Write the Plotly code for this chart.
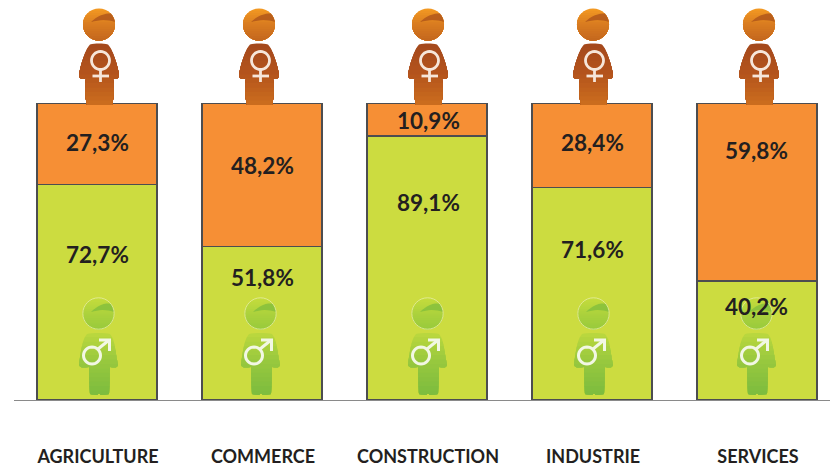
import plotly.graph_objects as go

# ---- data ----
categories = ["AGRICULTURE", "COMMERCE", "CONSTRUCTION", "INDUSTRIE", "SERVICES"]
men = [72.7, 51.8, 89.1, 71.6, 40.2]
women = [27.3, 48.2, 10.9, 28.4, 59.8]
men_labels = ["72,7%", "51,8%", "89,1%", "71,6%", "40,2%"]
women_labels = ["27,3%", "48,2%", "10,9%", "28,4%", "59,8%"]

# ---- layout constants (pixels) ----
W, H = 830, 470
L, AXIS_Y = 14, 400
men_label_y = [254, 277, 202, 249, 306]
women_label_y = [142, 165, 120, 142, 151]
label_x = [97, 262, 428, 592, 756]
female_x = [99, 259, 428, 593, 759]
male_x = [98, 260, 427, 593, 756]
ORANGE, GREEN = "#F68F35", "#CCDC40"
FONT = "Lato"
BANDS = 14


def fx(p):
    return (p - L) / (W - L)


def fy(p):
    return (AXIS_Y - p) / AXIS_Y


def flatten(cmds):
    pts = []
    for c in cmds:
        op, v = c[0], c[1:]
        if op in "ML":
            pts.append((v[0], v[1]))
        elif op == "C":
            p0 = pts[-1]
            for i in range(1, 9):
                t = i / 8
                a, b, d, e = (1 - t) ** 3, 3 * (1 - t) ** 2 * t, 3 * (1 - t) * t ** 2, t ** 3
                pts.append((a * p0[0] + b * v[0] + d * v[2] + e * v[4],
                            a * p0[1] + b * v[1] + d * v[3] + e * v[5]))
    return pts


def clip_below(pts, y0):
    out = []
    for i, p in enumerate(pts):
        q = pts[(i + 1) % len(pts)]
        if p[1] >= y0:
            out.append(p)
        if (p[1] >= y0) != (q[1] >= y0):
            t = (y0 - p[1]) / (q[1] - p[1])
            out.append((p[0] + t * (q[0] - p[0]), y0))
    return out


def poly_path(pts, close=True):
    s = "M" + " L".join(f"{fx(x):.5f},{fy(y):.5f}" for x, y in pts)
    return s + (" Z" if close else "")


def shape(pts, fill=None, line=None, width=0, close=True):
    return dict(
        type="path", xref="paper", yref="paper", layer="above", path=poly_path(pts, close),
        fillcolor=fill or "rgba(0,0,0,0)",
        line=dict(color=line or "rgba(0,0,0,0)", width=width),
    )


def lerp_stops(stops, t):
    for (t0, c0), (t1, c1) in zip(stops, stops[1:]):
        if t <= t1:
            f = (t - t0) / (t1 - t0)
            rgb = [round(int(c0[i:i + 2], 16) * (1 - f) + int(c1[i:i + 2], 16) * f) for i in (1, 3, 5)]
            return f"rgb({rgb[0]},{rgb[1]},{rgb[2]})"
    return stops[-1][1]


def gradient(pts, stops):
    ys = [p[1] for p in pts]
    y0, y1 = min(ys), max(ys)
    out = []
    for i in range(BANDS):
        part = pts if i == 0 else clip_below(pts, y0 + (y1 - y0) * i / BANDS)
        if len(part) >= 3:
            out.append(shape(part, lerp_stops(stops, (i + 0.5) / BANDS)))
    return out


def circle(cx, cy, r):
    k = 0.5523 * r
    return flatten([
        ("M", cx + r, cy),
        ("C", cx + r, cy + k, cx + k, cy + r, cx, cy + r),
        ("C", cx - k, cy + r, cx - r, cy + k, cx - r, cy),
        ("C", cx - r, cy - k, cx - k, cy - r, cx, cy - r),
        ("C", cx + k, cy - r, cx + r, cy - k, cx + r, cy),
    ])


def female_icon(c):
    s = gradient(circle(c, 24.5, 16), [(0, "#F49A22"), (0.45, "#DB7E20"), (1, "#C4661E")])
    # darker diagonal band across the head
    s.append(shape(flatten([("M", c - 8, 22), ("C", c - 2, 16, c + 6, 13, c + 12, 13.5),
                            ("C", c + 14, 16, c + 15.5, 19, c + 15.8, 22),
                            ("C", c + 8, 19, c + 1, 20, c - 8, 22)]), "rgba(170,80,25,0.75)"))
    body = flatten([("M", c - 9, 44.5), ("C", c - 4, 43, c + 4, 43, c + 9, 44.5),
                    ("C", c + 13, 48, c + 19, 66, c + 20, 75),
                    ("C", c + 20, 79, c + 16, 80, c + 14, 78),
                    ("C", c + 15.5, 86, c + 15, 98, c + 13, 105),
                    ("L", c - 12, 105),
                    ("C", c - 14, 98, c - 14.5, 86, c - 13, 78),
                    ("C", c - 16, 80, c - 20, 79, c - 20, 75),
                    ("C", c - 19, 66, c - 13, 48, c - 9, 44.5)])
    s += gradient(body, [(0, "#A4481C"), (0.5, "#B4541C"), (1, "#CC6E1E")])
    ink = "#F6E6DA"
    s.append(shape(circle(c + 1.5, 60.5, 9), None, ink, 2.8))
    s.append(shape([(c + 1.5, 70), (c + 1.5, 82)], None, ink, 2.8, close=False))
    s.append(shape([(c - 6.5, 76), (c + 10, 76)], None, ink, 2.8, close=False))
    return s


def male_icon(c):
    s = gradient(circle(c + 0.5, 313.5, 15.7), [(0, "#C6DC3C"), (0.5, "#ACD23C"), (1, "#98CA3C")])
    s.append(shape(flatten([("M", c - 7, 312), ("C", c - 1, 306, c + 7, 302, c + 13, 304),
                            ("C", c + 15, 307, c + 16, 310, c + 16, 312),
                            ("C", c + 8, 309, c + 1, 310, c - 7, 312)]), "rgba(130,190,60,0.8)"))
    s.append(shape(circle(c + 0.5, 313.5, 15.7), None, "rgba(232,238,170,0.85)", 0.9))
    body = flatten([("M", c - 11, 334), ("C", c - 6, 332.5, c + 7, 332.5, c + 12, 334),
                    ("C", c + 17, 339, c + 18, 358, c + 20, 364),
                    ("C", c + 20, 368, c + 16, 368, c + 12, 367),
                    ("L", c + 11, 394), ("L", c + 3, 395), ("L", c + 1, 393), ("L", c - 1, 395), ("L", c - 8, 394),
                    ("L", c - 9, 367),
                    ("C", c - 14, 368, c - 19, 368, c - 19, 364),
                    ("C", c - 18, 358, c - 16, 339, c - 11, 334)])
    s += gradient(body, [(0, "#BCD83E"), (0.45, "#98C83E"), (1, "#7CBC3E")])
    ink = "#F2F7E4"
    s.append(shape(circle(c - 6, 355.5, 8.5), None, ink, 3))
    s.append(shape([(c, 349), (c + 10.5, 340.5)], None, ink, 3, close=False))
    s.append(shape([(c + 1, 340), (c + 11.5, 340), (c + 11.5, 351)], None, ink, 3, close=False))
    return s


fig = go.Figure()
edge = dict(color="#4C4D50", width=1.6)
fig.add_bar(x=categories, y=men, name="Hommes", marker=dict(color=GREEN, line=edge), width=0.727)
fig.add_bar(x=categories, y=women, name="Femmes", marker=dict(color=ORANGE, line=edge), width=0.727)

shapes = []
for c in female_x:
    shapes += female_icon(c)
for c in male_x:
    shapes += male_icon(c)

annotations = []
for x, y, t in list(zip(label_x, women_label_y, women_labels)) + list(zip(label_x, men_label_y, men_labels)):
    annotations.append(dict(
        xref="paper", yref="paper", x=fx(x), y=fy(y), text=t, showarrow=False,
        xanchor="center", yanchor="middle",
        font=dict(family=FONT, size=22.5, color="#231F20", weight=700),
    ))

fig.update_layout(
    width=W, height=H, barmode="stack", showlegend=False,
    margin=dict(l=L, r=0, t=0, b=H - AXIS_Y),
    paper_bgcolor="white", plot_bgcolor="white",
    shapes=shapes, annotations=annotations,
    xaxis=dict(
        type="category", range=[-0.503, 4.442], showgrid=False, ticks="",
        showline=True, linecolor="#8A8A8A", linewidth=1,
        ticklabelstandoff=40, ticklabelshift=1,
        tickfont=dict(family=FONT, size=18, color="#231F20", weight=700),
    ),
    yaxis=dict(range=[0, 134.9], visible=False, fixedrange=True),
)
fig.write_html("out.html", config={"displayModeBar": False},
               post_script="document.body.style.margin='0';document.documentElement.style.overflow='hidden';")
